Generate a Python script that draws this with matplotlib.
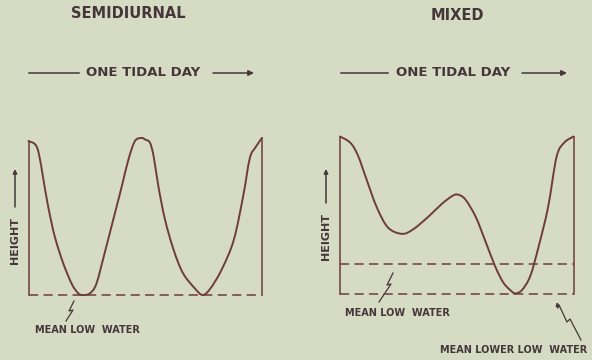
import matplotlib.pyplot as plt
from matplotlib.path import Path
from matplotlib.patches import PathPatch

# semidiurnal tide over one tidal day: hours, height above mean low water
semi_hours = [0.0, 0.7, 1.1, 1.6, 2.1, 2.8, 3.7, 4.6, 5.3, 5.8, 6.5, 7.2, 8.1, 9.0,
              9.9, 10.6, 11.3, 12.0, 12.4, 12.9, 13.3, 13.8, 14.5, 15.4, 16.4,
              17.7, 18.5, 19.3, 20.5, 21.8, 22.8, 23.5, 24.1, 24.8]
semi_height = [9.8, 9.6, 9.0, 7.3, 5.6, 3.7, 2.0, 0.7, 0.1, 0.0, 0.1, 0.7, 2.7, 4.8,
               6.9, 8.6, 9.8, 10.0, 9.9, 9.7, 8.8, 6.9, 4.8, 2.9, 1.4,
               0.4, 0.0, 0.4, 1.6, 3.5, 6.3, 8.7, 9.4, 10.0]

# mixed tide: hours, height above mean lower low water
mixed_hours = [0.0, 1.1, 1.9, 2.8, 3.9, 5.1, 6.6, 7.8, 9.4, 10.8, 11.9, 12.5, 13.3,
               14.4, 15.4, 16.5, 17.4, 18.4, 18.6, 19.3, 20.2, 21.1, 22.1, 23.0,
               23.8, 24.8]
mixed_height = [10.0, 9.6, 8.8, 7.3, 5.5, 4.2, 3.8, 4.1, 4.9, 5.7, 6.2, 6.3, 6.0,
                4.9, 3.4, 1.7, 0.65, 0.05, 0.0, 0.2, 1.1, 3.0, 5.5, 8.7,
                9.6, 10.0]
mixed_mlw = 1.9   # mean low water

titles = ['SEMIDIURNAL', 'MIXED']

BG = '#d6dbc3'
INK = '#6e3c3c'
TXT = '#45363a'

fig = plt.figure(figsize=(5.92, 3.6), dpi=100, facecolor=BG)

# overlay in pixel units (y down) for lettering and leaders
over = fig.add_axes([0, 0, 1, 1], zorder=0)
over.set_xlim(0, 592)
over.set_ylim(360, 0)
over.axis('off')


def smooth_path(xs, ys):
    # catmull-rom through the readings, stroked as cubic beziers
    pts = list(zip(xs, ys))
    verts = [pts[0]]
    codes = [Path.MOVETO]
    for i in range(len(pts) - 1):
        p0 = pts[i - 1] if i > 0 else pts[i]
        p1 = pts[i]
        p2 = pts[i + 1]
        p3 = pts[i + 2] if i + 2 < len(pts) else pts[i + 1]
        c1 = (p1[0] + (p2[0] - p0[0]) / 6, p1[1] + (p2[1] - p0[1]) / 6)
        c2 = (p2[0] - (p3[0] - p1[0]) / 6, p2[1] - (p3[1] - p1[1]) / 6)
        verts += [c1, c2, p2]
        codes += [Path.CURVE4] * 3
    return Path(verts, codes)


def add_panel(left, bottom, hours, height):
    ax = fig.add_axes([left / 592, (360 - bottom) / 360, 233.5 / 592, 157 / 360], zorder=1)
    ax.set_xlim(0, hours[-1])
    ax.set_ylim(0, 10)
    ax.axis('off')
    ax.patch.set_alpha(0)
    ax.add_patch(PathPatch(smooth_path(hours, height), fill=False, edgecolor=INK,
                           lw=1.4, clip_on=False, joinstyle='round', capstyle='round'))
    ax.plot([0, 0], [0, height[0]], color=INK, lw=1.1, clip_on=False)
    ax.plot([hours[-1], hours[-1]], [0, height[-1]], color=INK, lw=1.1, clip_on=False)
    ax.plot([0, hours[-1]], [0, 0], color=INK, lw=1.1, dashes=(6, 3.5), clip_on=False)
    return ax


def lettering(x, y, s, size=7, **kw):
    over.text(x, y, s, color=TXT, fontsize=size, fontweight='bold',
              ha='center', va='center', **kw)


def arrow(x0, y0, x1, y1, scale=8):
    over.annotate('', xy=(x1, y1), xytext=(x0, y0),
                  arrowprops=dict(arrowstyle='-|>', color=TXT, lw=1.1,
                                  mutation_scale=scale, shrinkA=0, shrinkB=0))


def leader(pts):
    xs = [p[0] for p in pts]
    ys = [p[1] for p in pts]
    over.plot(xs, ys, color=TXT, lw=0.9)


ax1 = add_panel(28.5, 295, semi_hours, semi_height)
ax2 = add_panel(340, 293.5, mixed_hours, mixed_height)
ax2.plot([0, mixed_hours[-1]], [mixed_mlw, mixed_mlw], color=INK, lw=1.1,
         dashes=(6, 3.5), clip_on=False)

# headings
lettering(128, 14, titles[0], size=10.5)
lettering(457, 15, titles[1], size=10.5)

# one tidal day arrows
for x0, tx, a0, a1, x1 in [(29, 143, 213, 254, 79), (341, 453, 522, 567, 388)]:
    over.plot([x0, x1], [73, 73], color=TXT, lw=1.1)
    lettering(tx, 73, 'ONE TIDAL DAY', size=9.5)
    arrow(a0, 73, a1, 73)

# height axis labels
for x, yc in [(15, 240), (326, 236)]:
    lettering(x, yc, 'HEIGHT', size=8, rotation=90)
    arrow(x, yc - 33, x, 169, scale=6)

# datum labels
lettering(87, 330, 'MEAN LOW  WATER', size=7)
lettering(397, 313, 'MEAN LOW  WATER', size=7)
lettering(514, 350, 'MEAN LOWER LOW  WATER', size=7)

leader([(74, 301), (69, 311), (73, 310), (66, 321)])
leader([(393, 273), (387, 285), (391, 284), (379, 302)])
leader([(559, 305), (567, 322), (570, 319), (581, 340)])
arrow(558, 308, 557, 302, scale=5)

fig.savefig('out.png', dpi=100, facecolor=BG)
